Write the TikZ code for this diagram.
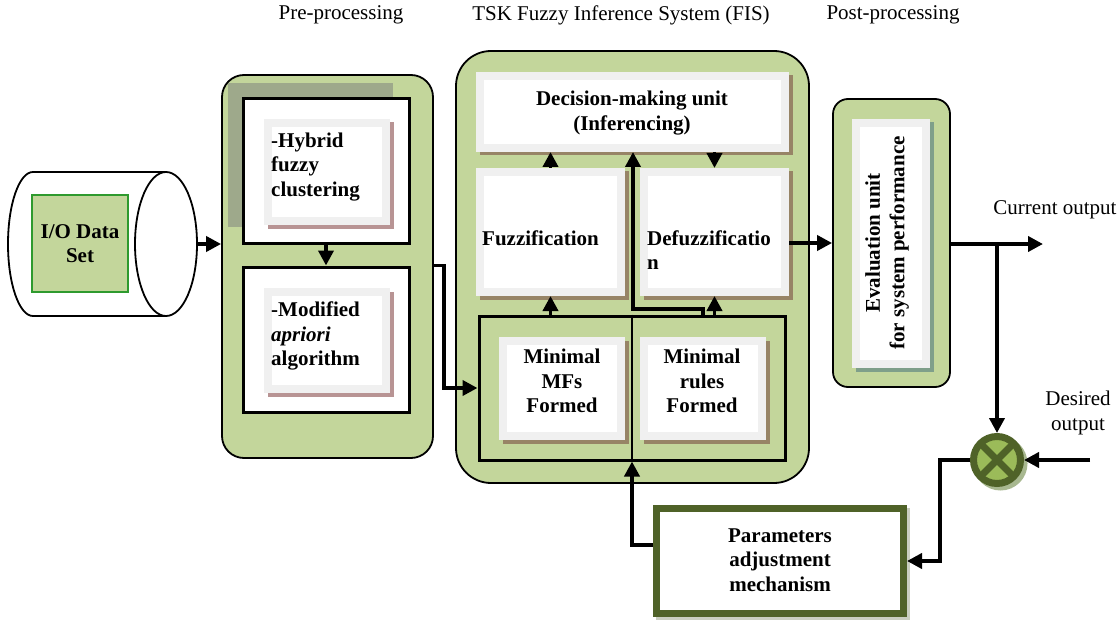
\documentclass[tikz,border=0pt]{standalone}
\usepackage{fontspec}
\setmainfont{Liberation Serif}
\usetikzlibrary{arrows.meta,shapes.geometric}
\definecolor{boxgreen}{HTML}{C3D69B}
\definecolor{cardgray}{HTML}{F0F0F0}
\definecolor{brownsh}{HTML}{978466}
\definecolor{pinksh}{HTML}{B89494}
\definecolor{tealsh}{HTML}{7F9F8A}
\definecolor{olive}{HTML}{4F6228}
\definecolor{sumfill}{HTML}{9BBB59}
\definecolor{blockgray}{HTML}{9EA98B}
\definecolor{iogreen}{HTML}{2E9A2E}
\definecolor{lightsh}{HTML}{C9CEC0}
\definecolor{sumsh}{HTML}{A8B890}
\begin{document}
\begin{tikzpicture}[x=1pt,y=-1pt,
 every node/.style={font=\fontsize{21}{24.5}\selectfont, inner sep=0pt},
 panel/.style={draw=black, line width=1.8pt, fill=boxgreen, rounded corners=#1},
 blackbox/.style={draw=black, line width=3pt, fill=white},
 card/.style={draw=cardgray, line width=8pt, fill=white,
   preaction={draw=#1, fill=#1, transform canvas={shift={(3.5pt,-3.5pt)}}}},
 bold/.style={font=\fontsize{21}{24.5}\selectfont\bfseries},
 arr/.style={line width=3.8pt, -{Triangle[length=15pt,width=15pt]}},
]
\useasboundingbox (0,0) rectangle (1120,623);

% top labels
\node (lpre) at (341,15) {Pre-processing};
\node (lfis) at (621,15) {TSK Fuzzy Inference System (FIS)};
\node (lpost) at (893,15) {Post-processing};

% cylinder
\draw[line width=1.8pt, fill=white] (33,244) ellipse [x radius=25, y radius=72];
\fill[white] (33,172) rectangle (166,316);
\draw[line width=1.8pt] (33,172) -- (166,172);
\draw[line width=1.8pt] (33,316) -- (166,316);
\node[ellipse, draw=black, line width=1.8pt, fill=white, minimum width=62, minimum height=144] (cyl) at (166,244) {};
\node[draw=iogreen, line width=1.8pt, fill=boxgreen, minimum width=96, minimum height=97, align=center, bold] (io) at (80,243.5) {I/O Data\\Set};

% pre-processing panel
\node[panel=22pt, minimum width=211, minimum height=383] (pre) at (327.5,266.5) {};
\fill[blockgray] (228,83) rectangle (393,227);
\node[blackbox, minimum width=166, minimum height=144] (box1) at (326,171) {};
\node[blackbox, minimum width=166, minimum height=145] (box2) at (326,339.5) {};
\node[card=pinksh, minimum width=118, minimum height=98] (hyb) at (327,172) {};
\node[card=pinksh, minimum width=118, minimum height=97] (mod) at (327,340.5) {};
\node[bold, anchor=west, align=left] (thyb) at (271,167) {-Hybrid\\fuzzy\\clustering};
\node[bold, anchor=west, align=left] (tmod) at (271,336) {-Modified\\\textit{apriori}\\algorithm};

% FIS panel
\node[panel=35pt, minimum width=353, minimum height=432] (fis) at (632.5,267) {};
\node[card=brownsh, minimum width=305, minimum height=72] (dec) at (632.5,112) {};
\node[card=brownsh, minimum width=141, minimum height=120] (fuz) at (550.5,232) {};
\node[card=brownsh, minimum width=141, minimum height=120] (def) at (714.5,232) {};
\node[draw=black, line width=3pt, minimum width=306, minimum height=144] (rulebox) at (632,388) {};
\node[card=brownsh, minimum width=118, minimum height=95] (mfs) at (562,388.5) {};
\node[card=brownsh, minimum width=118, minimum height=95] (rul) at (703,388.5) {};
\draw[line width=2.5pt] (rulebox.north) -- (rulebox.south);
\node[bold, align=center] (tdec) at (632,113) {Decision-making unit\\(Inferencing)};
\node[bold, anchor=west] (tfuz) at (482,238) {Fuzzification};
\node[bold, anchor=west, align=left] (tdef) at (647,250) {Defuzzificatio\\n};
\node[bold, align=center] (tmfs) at (562,381) {Minimal\\MFs\\Formed};
\node[bold, align=center] (trul) at (702,381) {Minimal\\rules\\Formed};

% evaluation panel
\node[panel=15pt, minimum width=117, minimum height=288] (evp) at (891.5,243) {};
\node[card=tealsh, minimum width=70, minimum height=241] (eva) at (891,243.5) {};
\node[bold, rotate=90, align=center] (teva) at (887,243) {Evaluation unit\\for system performance};

% summing junction
\node[circle, draw=olive, line width=7pt, fill=sumfill, minimum size=47,
  preaction={fill=sumsh, draw=sumsh, transform canvas={shift={(3.5pt,-3.5pt)}}}] (sum) at (997,460) {};
\begin{scope}
  \clip (997,460) circle (24);
  \draw[olive, line width=7pt] (967,430) -- (1027,490);
  \draw[olive, line width=7pt] (967,490) -- (1027,430);
\end{scope}

% parameters box
\node[draw=olive, line width=7pt, fill=white, minimum width=247, minimum height=105,
  preaction={draw=lightsh, fill=lightsh, transform canvas={shift={(3pt,-3pt)}}}] (par) at (780,561) {};
\node[bold, align=center] (tpar) at (780,560) {Parameters\\adjustment\\mechanism};

% output labels
\node (lcur) at (1055,210) {Current output};
\node[align=center] (ldes) at (1078,413) {Desired\\output};

% coordinates
\coordinate (out) at (1043,244);
\coordinate (br) at (997,244);
\coordinate (des) at (1090,460);
\coordinate (jx) at (633,309);

% connectors
\draw[arr] (cyl.east) -- (cyl.east -| pre.west);
\draw[arr] (box1.south) -- (box2.north);
\draw[arr] (box2.north -| pre.east) -- ++(10,0) |- (rulebox.west);
\draw[arr] (fuz.north) -- (dec.south -| fuz.north);
\draw[arr] (fuz.south |- rulebox.north) -- (fuz.south);
\draw[arr] (dec.south -| def.north) -- (def.north);
\draw[arr] (def.south |- rulebox.north) -- (def.south);
\draw[arr] (rulebox.north -| rul.north) |- (jx) -- (jx |- dec.south);
\draw[arr] ([yshift=-11pt]def.east) -- ([yshift=-11pt]def.east -| evp.west);
\draw[arr] (evp.east |- out) -- (out);
\draw[arr] (br) -- (sum.north);
\draw[arr] (des) -- (sum.east);
\draw[arr] (sum.west) -- ++(-30,0) |- (par.east);
\draw[arr] ([yshift=16pt]par.west) -| (rulebox.south);
\end{tikzpicture}
\end{document}
